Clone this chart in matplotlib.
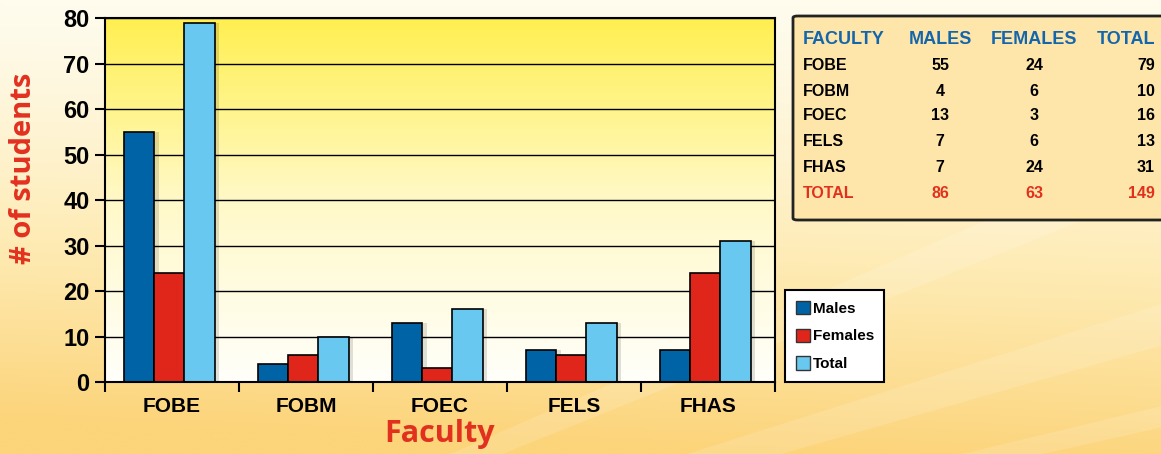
import numpy as np
import matplotlib
matplotlib.use("Agg")
import matplotlib.pyplot as plt
from matplotlib.colors import LinearSegmentedColormap
from matplotlib.patches import Polygon, FancyBboxPatch, Patch

faculties = ["FOBE", "FOBM", "FOEC", "FELS", "FHAS"]
males = [55, 4, 13, 7, 7]
females = [24, 6, 3, 6, 24]
totals = [79, 10, 16, 13, 31]
yticks = [0, 10, 20, 30, 40, 50, 60, 70, 80]

c_male = "#0063A6"
c_female = "#E0261A"
c_total = "#68C8F0"
c_red = "#E2301F"
c_blue = "#1466AC"

plt.rcParams["font.family"] = ["Liberation Sans", "DejaVu Sans"]
plt.rcParams["font.weight"] = "bold"

fig = plt.figure(figsize=(11.61, 4.54), dpi=100)

# page background: cream at the top, warm orange towards the bottom, faint rays
bg = fig.add_axes([0, 0, 1, 1], zorder=-2)
yy, xx = np.mgrid[0:1:200j, 0:1:400j]
t = np.clip(0.95 * yy ** 1.3 + 0.15 * (1 - xx) * yy, 0, 1)
bg_cmap = LinearSegmentedColormap.from_list("bg", ["#FFFCEE", "#FEEBB4", "#FCD47A"])
bg.imshow(t, cmap=bg_cmap, extent=[0, 1, 0, 1], aspect="auto", origin="upper")
for a0, a1 in [(0.15, 0.19), (0.27, 0.30), (0.38, 0.43), (0.52, 0.55), (0.63, 0.68), (0.80, 0.84)]:
    ox, oy = -0.15, -0.6
    r = 3.0
    bg.add_patch(Polygon([(ox, oy), (ox + r * np.cos(a0), oy + r * np.sin(a0)),
                          (ox + r * np.cos(a1), oy + r * np.sin(a1))],
                         closed=True, color="white", alpha=0.14, lw=0))
bg.set_xlim(0, 1)
bg.set_ylim(0, 1)
bg.axis("off")

ax = fig.add_axes([0.0904, 0.1586, 0.5771, 0.8014])
ax.patch.set_alpha(0)

# plot area: yellow at the top fading to white
plot_cmap = LinearSegmentedColormap.from_list("plot", ["#FFFFFA", "#FFF9C8", "#FFEF50"])
ax.imshow(np.linspace(0, 1, 256).reshape(-1, 1)[::-1], cmap=plot_cmap,
          extent=[-0.5, 4.5, 0, 80], aspect="auto", zorder=0)

x = np.arange(len(faculties))
w = 0.226
shift = -0.02
for off, vals, col in [(-1, males, c_male), (0, females, c_female), (1, totals, c_total)]:
    pos = x + shift + off * w
    ax.bar(pos + 0.035, vals, w, color="black", alpha=0.12, lw=0, zorder=2)
    ax.bar(pos, vals, w, color=col, edgecolor="black", linewidth=1.2, zorder=3)

ax.set_xlim(-0.5, 4.5)
ax.set_ylim(0, 80)
ax.set_yticks(yticks)
ax.set_yticklabels([str(v) for v in yticks], fontsize=17, fontweight="bold")
ax.yaxis.grid(True, color="black", linewidth=1.0)
for line in ax.get_ygridlines():
    line.set_zorder(1)

ax.set_xticks(x)
ax.set_xticklabels(faculties, fontsize=15, fontweight="bold")
ax.set_xticks(np.arange(-0.5, 5.0, 1.0), minor=True)
ax.tick_params(axis="x", which="major", length=0, pad=11)
ax.tick_params(axis="x", which="minor", length=7, width=1.5, direction="out")
ax.tick_params(axis="y", length=7, width=1.5, direction="out", pad=4)
for s in ax.spines.values():
    s.set_linewidth(1.5)
    s.set_zorder(4)

ax.set_ylabel("# of students", fontsize=21, fontweight="bold", color=c_red,
              family=["Open Sans", "DejaVu Sans"])
ax.yaxis.set_label_coords(-0.1, 0.588)
ax.set_xlabel("Faculty", fontsize=22, fontweight="bold", color=c_red,
              family=["Open Sans", "DejaVu Sans"], labelpad=2)

handles = [Patch(facecolor=c_male, edgecolor="#333333", label="Males"),
           Patch(facecolor=c_female, edgecolor="#333333", label="Females"),
           Patch(facecolor=c_total, edgecolor="#333333", label="Total")]
leg = fig.legend(handles=handles, loc="lower left", bbox_to_anchor=(785 / 1161, 72 / 454),
                 frameon=True, fancybox=False, edgecolor="black", framealpha=1,
                 prop={"weight": "bold", "size": 11}, handlelength=0.95, handleheight=0.95,
                 handletextpad=0.15, labelspacing=0.85, borderpad=0.7, borderaxespad=0)
leg.get_frame().set_linewidth(1.5)

# summary table
box = FancyBboxPatch((793 / 1161, 234 / 454), 0.35, 204 / 454, transform=fig.transFigure,
                     boxstyle="round,pad=0,rounding_size=0.004", facecolor="#FEE6AA",
                     edgecolor="#222222", linewidth=2, zorder=1)
fig.patches.append(box)

header = ["FACULTY", "MALES", "FEMALES", "TOTAL"]
col_x = [803, 940, 1034, 1155]
col_ha = ["left", "center", "center", "right"]
row_y = [40, 65, 91, 116, 142, 167, 193]
for cx, ha, txt in zip(col_x, col_ha, header):
    fig.text(cx / 1161, 1 - row_y[0] / 454, txt, ha=ha, va="center", fontsize=13,
             fontweight="bold", color=c_blue, zorder=3)
for i, fac in enumerate(faculties):
    cells = [fac, males[i], females[i], totals[i]]
    for cx, ha, val in zip(col_x, col_ha, cells):
        fig.text(cx / 1161, 1 - row_y[i + 1] / 454, str(val), ha=ha, va="center",
                 fontsize=11.5, fontweight="bold", color="black", zorder=3)
sums = ["TOTAL", sum(males), sum(females), sum(totals)]
for cx, ha, val in zip(col_x, col_ha, sums):
    fig.text(cx / 1161, 1 - row_y[-1] / 454, str(val), ha=ha, va="center",
             fontsize=11.5, fontweight="bold", color=c_red, zorder=3)

fig.savefig("out.png", dpi=100)
